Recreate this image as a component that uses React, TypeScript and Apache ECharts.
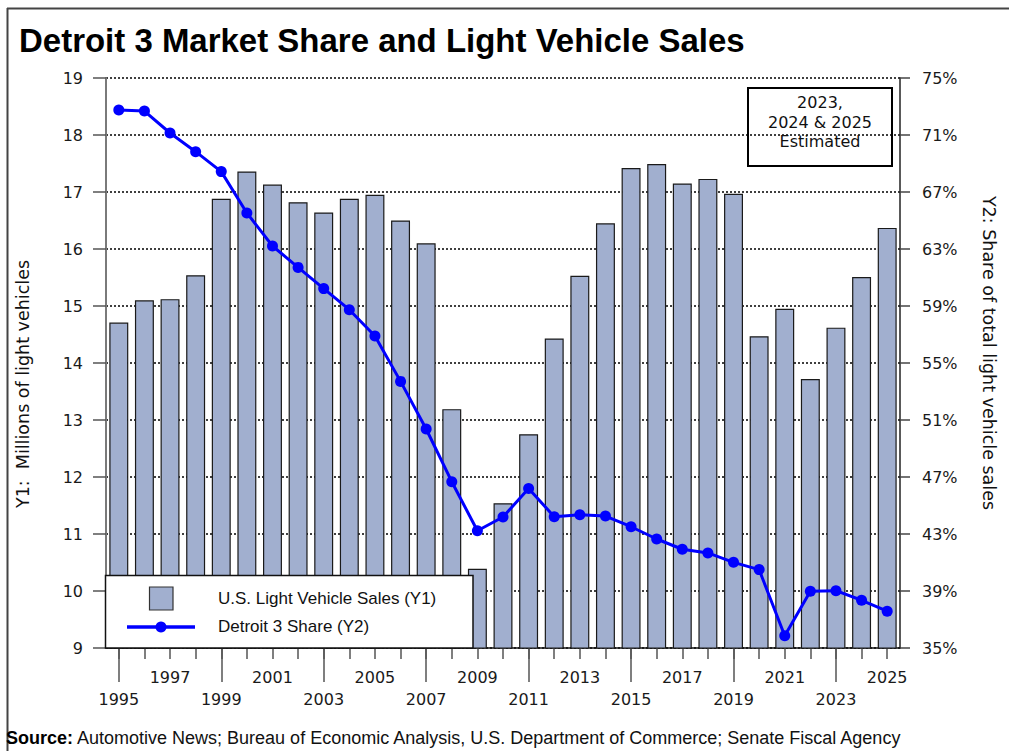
import React, { useEffect, useRef } from "react";
import * as echarts from "echarts";

const years = [
  "1995","1996","1997","1998","1999","2000","2001","2002","2003","2004",
  "2005","2006","2007","2008","2009","2010","2011","2012","2013","2014",
  "2015","2016","2017","2018","2019","2020","2021","2022","2023","2024","2025",
];

// U.S. Light Vehicle Sales, millions (Y1)
const sales = [
  14.71, 15.10, 15.12, 15.54, 16.88, 17.36, 17.13, 16.82, 16.64, 16.88,
  16.95, 16.50, 16.10, 13.19, 10.39, 11.54, 12.75, 14.43, 15.53, 16.45,
  17.42, 17.49, 17.15, 17.23, 16.97, 14.47, 14.95, 13.72, 14.62, 15.51, 16.37,
];

// Detroit 3 share of total light vehicle sales, percent (Y2)
const share = [
  72.75, 72.68, 71.14, 69.83, 68.43, 65.53, 63.21, 61.71, 60.22, 58.74,
  56.89, 53.71, 50.37, 46.67, 43.23, 44.19, 46.2, 44.21, 44.35, 44.26,
  43.51, 42.65, 41.93, 41.67, 41.01, 40.5, 35.86, 38.98, 39.02, 38.35, 37.58,
];

const y1Min = 9;
const y1Max = 19;
const y2Min = 35;
const y2Max = 75;
const y2Step = 4;

const title = "Detroit 3 Market Share and Light Vehicle Sales";
const sourceLabel = "Source:";
const sourceText =
  " Automotive News; Bureau of Economic Analysis, U.S. Department of Commerce; Senate Fiscal Agency";
const legendBar = "U.S. Light Vehicle Sales (Y1)";
const legendLine = "Detroit 3 Share (Y2)";
const y1Name = "Y1:  Millions of light vehicles";
const y2Name = "Y2: Share of total light vehicle sales";
const noteText = "2023,\n2024 & 2025\nEstimated";

const BAR_COLOR = "#A1AFCF";
const LINE_COLOR = "#0000FF";
const TICK_FONT = "DejaVu Sans";
const TEXT_FONT = "Liberation Sans";
const NARROW_FONT = "'Liberation Sans Narrow', 'Liberation Sans', Arial, sans-serif";

export default function App() {
  const ref = useRef<HTMLDivElement>(null);

  useEffect(() => {
    if (!ref.current) return;
    const chart = echarts.init(ref.current, undefined, { renderer: "svg" });

    const tickLabel = {
      fontFamily: TICK_FONT,
      fontSize: 16,
      fontWeight: "normal",
      color: "#1a1a1a",
    };

    const option: any = {
      animation: false,
      backgroundColor: "#ffffff",
      grid: { left: 106, right: 109, top: 78, bottom: 103, containLabel: false },
      xAxis: [
        {
          type: "category",
          data: years,
          boundaryGap: true,
          axisLine: { show: true, lineStyle: { color: "#111", width: 1.5 } },
          axisTick: {
            show: true,
            alignWithLabel: true,
            interval: 0,
            length: 11,
            lineStyle: { color: "#555", width: 1.5 },
          },
          axisLabel: {
            ...tickLabel,
            interval: (i: number) => i % 4 === 2,
            margin: 21,
          },
          splitLine: { show: false },
        },
        {
          type: "category",
          data: years,
          position: "bottom",
          boundaryGap: true,
          axisLine: { show: false },
          axisTick: {
            show: true,
            alignWithLabel: true,
            interval: (i: number) => i % 4 === 0,
            length: 34,
            lineStyle: { color: "#555", width: 1.5 },
          },
          axisLabel: {
            ...tickLabel,
            interval: (i: number) => i % 4 === 0,
            margin: 43,
          },
          splitLine: { show: false },
        },
      ],
      yAxis: [
        {
          type: "value",
          min: y1Min,
          max: y1Max,
          interval: 1,
          position: "left",
          axisLine: { show: true, lineStyle: { color: "#7a7a7a", width: 2 } },
          axisTick: { show: true, length: 13, lineStyle: { color: "#555", width: 1.5 } },
          axisLabel: { ...tickLabel, margin: 23 },
          splitLine: {
            show: true,
            lineStyle: { color: "#000", type: [2, 2], width: 1.5 },
          },
        },
        {
          type: "value",
          min: 0,
          max: y2Max - y2Min,
          interval: y2Step,
          position: "right",
          axisLine: { show: true, lineStyle: { color: "#222", width: 1.5 } },
          axisTick: { show: true, length: 10, lineStyle: { color: "#444", width: 1.5 } },
          axisLabel: {
            ...tickLabel,
            margin: 22,
            formatter: (v: number) => `${Math.round(v + y2Min)}%`,
          },
          splitLine: { show: false },
        },
      ],
      series: [
        {
          name: legendBar,
          type: "bar",
          xAxisIndex: 0,
          yAxisIndex: 0,
          data: sales,
          barCategoryGap: "26%",
          itemStyle: { color: BAR_COLOR, borderColor: "#1a1a1a", borderWidth: 1.2 },
          z: 2,
        },
        {
          name: legendLine,
          type: "line",
          xAxisIndex: 0,
          yAxisIndex: 1,
          data: share.map((v) => v - y2Min),
          symbol: "circle",
          symbolSize: 11,
          lineStyle: { color: LINE_COLOR, width: 3 },
          itemStyle: { color: LINE_COLOR },
          z: 5,
        },
      ],
      graphic: [
        // outer frame (top and left)
        { type: "line", z: 100, shape: { x1: 7, y1: 8.5, x2: 1009, y2: 8.5 }, style: { stroke: "#444", lineWidth: 2 } },
        { type: "line", z: 100, shape: { x1: 7.5, y1: 8, x2: 7.5, y2: 751 }, style: { stroke: "#444", lineWidth: 2 } },
        // title
        {
          type: "text",
          z: 100,
          x: 19,
          y: 40,
          scaleX: 0.97,
          style: {
            text: title,
            fontFamily: NARROW_FONT,
            fontWeight: "bold",
            fontSize: 34,
            fill: "#000",
            verticalAlign: "middle",
          },
        },
        // y1 name
        {
          type: "text",
          z: 100,
          x: 23,
          y: 384,
          rotation: Math.PI / 2,
          style: {
            text: y1Name,
            fontFamily: TICK_FONT,
            fontSize: 17.5,
            fill: "#111",
            align: "center",
            verticalAlign: "middle",
          },
        },
        // y2 name
        {
          type: "text",
          z: 100,
          x: 989,
          y: 353,
          rotation: -Math.PI / 2,
          style: {
            text: y2Name,
            fontFamily: TICK_FONT,
            fontSize: 17.5,
            fill: "#111",
            align: "center",
            verticalAlign: "middle",
          },
        },
        // estimated note box
        {
          type: "rect",
          z: 100,
          shape: { x: 748, y: 88, width: 144, height: 78 },
          style: { fill: "none", stroke: "#000", lineWidth: 2 },
        },
        {
          type: "text",
          z: 100,
          x: 820,
          y: 122,
          style: {
            text: noteText,
            fontFamily: TICK_FONT,
            fontSize: 16,
            lineHeight: 19.5,
            fill: "#111",
            align: "center",
            verticalAlign: "middle",
          },
        },
        // legend box
        {
          type: "rect",
          z: 100,
          shape: { x: 105.5, y: 575.5, width: 367.5, height: 72.5 },
          style: { fill: "#fff", stroke: "#111", lineWidth: 1.5 },
        },
        {
          type: "rect",
          z: 101,
          shape: { x: 149.5, y: 587, width: 23.5, height: 23 },
          style: { fill: BAR_COLOR, stroke: "#333", lineWidth: 1.2 },
        },
        {
          type: "line",
          z: 101,
          shape: { x1: 127, y1: 627, x2: 195, y2: 627 },
          style: { stroke: LINE_COLOR, lineWidth: 3.5 },
        },
        {
          type: "circle",
          z: 102,
          shape: { cx: 161, cy: 627, r: 5.5 },
          style: { fill: LINE_COLOR },
        },
        {
          type: "text",
          z: 101,
          x: 218,
          y: 598,
          style: {
            text: legendBar,
            fontFamily: TEXT_FONT,
            fontSize: 17,
            fill: "#111",
            verticalAlign: "middle",
          },
        },
        {
          type: "text",
          z: 101,
          x: 218,
          y: 626,
          style: {
            text: legendLine,
            fontFamily: TEXT_FONT,
            fontSize: 17,
            fill: "#111",
            verticalAlign: "middle",
          },
        },
        // source line
        {
          type: "text",
          z: 100,
          x: 6,
          y: 738,
          style: {
            text: `{b|${sourceLabel}}{n|${sourceText}}`,
            verticalAlign: "middle",
            rich: {
              b: { fontFamily: NARROW_FONT, fontWeight: "bold", fontSize: 18, fill: "#000" },
              n: { fontFamily: NARROW_FONT, fontSize: 18, fill: "#111" },
            },
          },
        },
      ],
    };

    chart.setOption(option);
    return () => chart.dispose();
  }, []);

  return (
    <div
      ref={ref}
      style={{ position: "fixed", left: 0, top: 0, width: 1009, height: 751, background: "#fff" }}
    />
  );
}
